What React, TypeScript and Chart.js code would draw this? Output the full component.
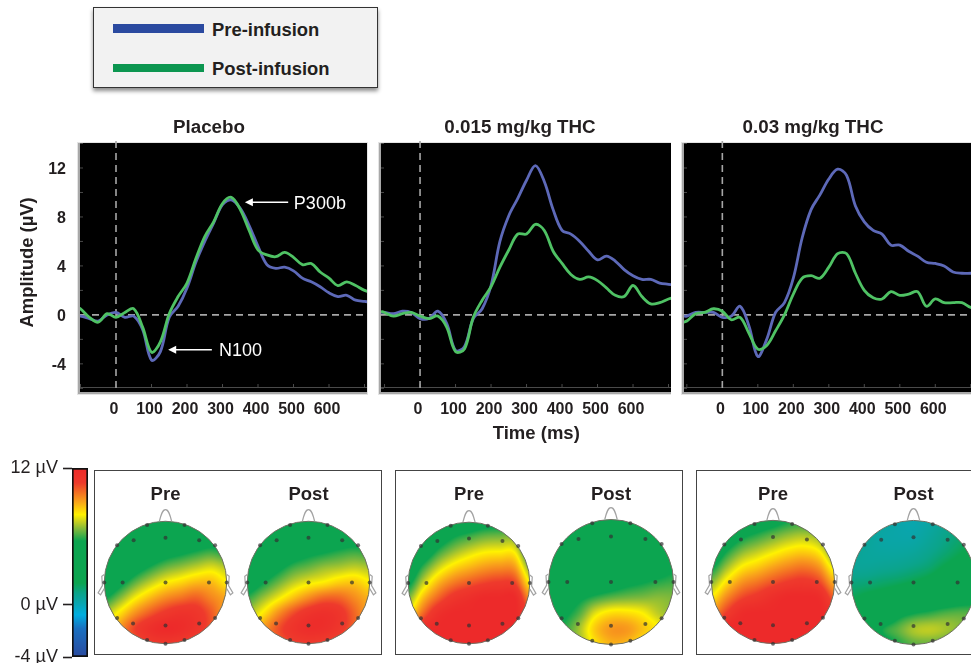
import React, { useEffect, useRef } from "react";
import { Chart, registerables } from "chart.js";

Chart.register(...registerables);

// ---------- ERP data (µV) ----------
const times = [-110, -100, -75, -50, -25, 0, 25, 50, 75, 100, 125, 150, 175, 200, 225, 250, 275, 300, 325, 350, 375, 400, 425, 450, 475, 500, 525, 550, 575, 600, 625, 650, 675, 700, 725];

const placeboPre = [-0.1, -0.1, -0.3, -0.5, 0, 0.2, -0.2, -0.1, -1.2, -3.7, -3, -0.2, 0.7, 2.2, 4.3, 6, 7.5, 9, 9.4, 8.7, 7.3, 5.6, 4.1, 3.8, 3.9, 3.6, 3, 2.7, 2.3, 1.8, 1.5, 1.6, 1.2, 1.1, 1];
const placeboPost = [0.6, 0.5, -0.2, -0.6, 0.1, -0.2, 0.2, 0.5, -1, -3.05, -2.2, 0.1, 1.5, 2.6, 4.6, 6.4, 7.6, 9.1, 9.6, 8.6, 6.9, 5.3, 4.9, 4.75, 5.1, 4.7, 4.1, 4.2, 3.5, 3, 2.4, 2.7, 2.4, 2, 1.8];

const lowPre = [0.2, 0.2, 0.1, 0.3, 0.2, -0.3, -0.3, 0.3, -0.7, -2.9, -2.6, -0.3, 0.5, 2.4, 6, 8.1, 9.5, 11, 12.2, 10.9, 8.6, 6.9, 6.6, 6, 5.2, 4.5, 4.8, 4.4, 3.7, 3.2, 2.9, 2.9, 2.6, 2.5, 2.4];
const lowPost = [0.3, 0.2, -0.1, 0.1, 0.2, -0.1, -0.3, -0.1, -1, -3, -2.8, -0.2, 1.2, 2.3, 3.9, 5.3, 6.6, 6.6, 7.4, 6.9, 5.2, 4.2, 3.3, 2.9, 3.1, 2.8, 2.2, 1.6, 1.5, 2.4, 1.5, 0.9, 1, 1.3, 1.5];

const highPre = [-0.1, -0.1, 0.2, 0.2, 0.2, -0.2, -0.1, 0.7, -0.9, -3.4, -2, 0.2, 1, 3, 6.3, 8.6, 9.8, 11.1, 11.9, 11.4, 8.9, 7.6, 6.9, 6.6, 5.7, 5.7, 5.2, 4.8, 4.3, 4.2, 4, 3.5, 3.4, 3.4, 3.4];
const highPost = [-0.6, -0.5, 0.1, 0.2, 0.5, 0.3, -0.4, -0.2, -1.5, -2.8, -2.5, -1.3, 0, 1.7, 3, 3.2, 3, 3.9, 5, 5, 3.4, 2, 1.4, 1.3, 1.9, 1.6, 1.7, 1.9, 0.7, 1.3, 1, 1, 1, 0.6, 0.5];

const timeTicks = [-100, 0, 100, 200, 300, 400, 500, 600, 700];
const timeTickLabels = [0, 100, 200, 300, 400, 500, 600];
const amplitudeTicks = [-6, -4, -2, 0, 2, 4, 6, 8, 10, 12, 14];
const amplitudeTickLabels = [-4, 0, 4, 8, 12];

// ---------- Scalp maps (µV on a 9 x 9 grid, top row first) ----------
const mapPlaceboPre = [
  [3, 3, 3, 3, 3, 3, 3, 3, 3],
  [3, 3, 3, 3, 3.4, 3.8, 4.2, 4.5, 4.1],
  [3, 3, 3.3, 4.2, 4.9, 5.3, 5.7, 6, 5.6],
  [3, 3.6, 4.8, 5.7, 6.4, 6.8, 7.2, 7.5, 7.1],
  [4, 5.1, 6.3, 7.2, 7.9, 8.3, 8.7, 8.7, 8],
  [5.5, 6.6, 7.8, 8.7, 9.4, 9.8, 10.1, 9.5, 9],
  [7, 8.1, 9.3, 10.2, 10.9, 11.3, 11.1, 10.2, 9],
  [8, 9.2, 10.6, 11.5, 12, 11.8, 11.2, 10.2, 9.2],
  [8, 9, 10, 10.8, 11, 10.8, 10.2, 9.5, 9],
];
const mapPlaceboPost = [
  [3, 3, 3, 3, 3, 3, 3, 3, 3],
  [3, 3, 3, 3.5, 3.9, 4.3, 4.5, 4.7, 4.5],
  [3, 3, 3.9, 4.7, 5.2, 5.5, 5.8, 6, 5.8],
  [3.4, 4.3, 5.2, 6, 6.4, 6.8, 7, 7.2, 7],
  [4.6, 5.5, 6.4, 7.2, 7.7, 8, 8.4, 8.5, 8],
  [5.9, 6.8, 7.7, 8.6, 9.4, 10, 10, 9.4, 8.8],
  [7, 8, 9.3, 10.4, 11.2, 11.5, 11.1, 10, 9],
  [8, 9.1, 10.3, 11.2, 11.7, 11.6, 11, 10, 9.2],
  [8, 9, 10, 10.6, 10.8, 10.6, 10, 9.5, 9],
];
const mapLowPre = [
  [3, 3, 3.3, 4.2, 4.7, 5.1, 5.2, 5.1, 3],
  [3, 3.2, 4.6, 5.6, 6.1, 6.5, 6.6, 6.5, 3.9],
  [3.9, 4.6, 6, 6.9, 7.5, 7.9, 8, 7.9, 5.3],
  [4.3, 6, 7.4, 8.3, 8.8, 9.2, 9.4, 9.2, 6.7],
  [5.3, 7.3, 8.8, 9.7, 10.2, 10.6, 10.8, 10.6, 8],
  [6.6, 8.7, 10.1, 11.1, 11.6, 12, 12, 12, 9.4],
  [8, 10, 11.5, 12, 12, 12, 12, 12, 10.7],
  [9.5, 11.5, 12, 12, 12, 12, 12, 12, 11],
  [10, 12, 12, 12, 12, 12, 12, 12, 11],
];
const mapLowPost = [
  [3.5, 3.5, 3.5, 3.5, 3.5, 3.5, 3.5, 3.5, 3.5],
  [3.5, 3.5, 3.5, 3.5, 3.5, 3.5, 3.5, 3.5, 3.5],
  [3.5, 3.5, 3.5, 3.5, 3.5, 3.5, 3.5, 3.5, 3.5],
  [3.4, 3.4, 3.5, 3.6, 3.8, 4, 4.3, 4.7, 5.2],
  [3.5, 3.6, 3.8, 4.2, 4.7, 5.2, 5.5, 5.8, 6],
  [4, 4.6, 5.3, 5.9, 6.3, 6.5, 6.6, 6.7, 6.6],
  [4.6, 5.3, 6.2, 7.6, 8.2, 8.2, 7.9, 7.2, 6.7],
  [5, 5.8, 7, 8.5, 9.2, 9.2, 8.6, 7.9, 6.8],
  [5.2, 5.8, 6.8, 8.1, 8.8, 8.7, 8, 7, 6.2],
];
const mapHighPre = [
  [3, 3, 4, 4.6, 5.1, 5.6, 5.8, 5.3, 3.6],
  [3, 4.3, 5.35, 5.9, 6.4, 6.85, 7.05, 6.6, 4.9],
  [4.1, 5.6, 6.65, 7.2, 7.7, 8.15, 8.35, 7.9, 6.2],
  [5.4, 6.85, 7.95, 8.45, 9, 9.45, 9.7, 9.2, 7.5],
  [6.7, 8.15, 9.25, 9.75, 10.3, 10.75, 10.95, 10.5, 8.8],
  [8, 9.45, 10.5, 11, 11.6, 12, 12, 11.8, 10.1],
  [9.3, 10.7, 11.8, 12, 12, 12, 12, 12, 11.4],
  [10.6, 12, 12, 12, 12, 12, 12, 12, 12],
  [11, 12, 12, 12, 12, 12, 12, 12, 12],
];
const mapHighPost = [
  [1, 0.9, 0.6, 0.3, 0.2, 0.4, 0.8, 1.2, 1.6],
  [0.9, 0.7, 0.4, 0.3, 0.3, 0.6, 1, 1.4, 1.9],
  [0.8, 0.6, 0.5, 0.5, 0.6, 0.9, 1.3, 1.8, 2.3],
  [0.7, 0.7, 0.8, 0.9, 1.1, 1.4, 2, 2.5, 3],
  [1.2, 1.3, 1.5, 1.7, 2, 2.4, 3, 3.4, 3.8],
  [1.8, 2.2, 2.5, 3, 3.4, 4, 4.4, 4.8, 5],
  [2.4, 2.9, 3.5, 5, 5.6, 5.9, 6.2, 6.3, 6.2],
  [3, 3.8, 5.6, 6.3, 7, 7.2, 7, 6.6, 6],
  [3.4, 3.8, 4.8, 5.7, 6.3, 6.4, 6.2, 5.6, 5],
];

const electrodeX = [-0.52, 0, 0.55, -0.7, 0, 0.71, -0.53, 0, 0.55, -0.3, 0.31, -0.79, 0.81, -1, 1, -0.79, 0.81, -0.3, 0.31, 0];
const electrodeY = [0.69, 0.73, 0.69, 0, 0, 0, -0.67, -0.7, -0.67, 0.94, 0.94, 0.61, 0.61, 0, 0, -0.58, -0.58, -0.94, -0.94, -1];

// ---------- Colour bar ----------
const barTicks = [12, 0, -4.6];
const barMin = -4.6;
const barMax = 12;
const barStopValues = [-4.6, -2.1, -0.9, 0.3, 1, 1.9, 5.6, 6.6, 7.3, 7.9, 9, 10.7, 12];
const barStopColors = ["#2a4a9f", "#1a70c0", "#00aee0", "#0aa5a8", "#0ba48a", "#0ca550", "#0ca550", "#7cb83c", "#c8d020", "#fff200", "#f9a51a", "#ee3a2c", "#ed2a2a"];

const FONT = "'Liberation Sans', Arial, sans-serif";
const INK = "#231f20";
const PRE_LINE = "#5d69b8";
const POST_LINE = "#4fc264";

function hexRgb(h: string) {
  return [parseInt(h.slice(1, 3), 16), parseInt(h.slice(3, 5), 16), parseInt(h.slice(5, 7), 16)];
}
const stopRgb = barStopColors.map(hexRgb);
function colorFor(v: number) {
  if (v <= barStopValues[0]) return stopRgb[0];
  for (let i = 1; i < barStopValues.length; i++) {
    if (v <= barStopValues[i]) {
      const t = (v - barStopValues[i - 1]) / (barStopValues[i] - barStopValues[i - 1]);
      const a = stopRgb[i - 1];
      const b = stopRgb[i];
      return [a[0] + (b[0] - a[0]) * t, a[1] + (b[1] - a[1]) * t, a[2] + (b[2] - a[2]) * t];
    }
  }
  return stopRgb[stopRgb.length - 1];
}
function cr(p0: number, p1: number, p2: number, p3: number, t: number) {
  return 0.5 * (2 * p1 + (p2 - p0) * t + (2 * p0 - 5 * p1 + 4 * p2 - p3) * t * t + (3 * p1 - p0 - 3 * p2 + p3) * t * t * t);
}
function sampleGrid(grid: number[][], x: number, y: number) {
  const n = grid.length - 1;
  const gx = Math.max(0, Math.min(n - 1e-6, ((x + 1) / 2) * n));
  const gy = Math.max(0, Math.min(n - 1e-6, ((1 - y) / 2) * n));
  const ix = Math.floor(gx);
  const iy = Math.floor(gy);
  const tx = gx - ix;
  const ty = gy - iy;
  const row = (r: number) => {
    const R = grid[Math.max(0, Math.min(n, r))];
    const c = (k: number) => R[Math.max(0, Math.min(n, k))];
    return cr(c(ix - 1), c(ix), c(ix + 1), c(ix + 2), tx);
  };
  return cr(row(iy - 1), row(iy), row(iy + 1), row(iy + 2), ty);
}

// ---------- ERP panels ----------
type Note = { text: string; arrowFrom: number; arrowTo: number; arrowY: number; textX: number; textY: number };

const placeboNotes: Note[] = [
  { text: "P300b", arrowFrom: 485, arrowTo: 363, arrowY: 9.2, textX: 501, textY: 9.05 },
  { text: "N100", arrowFrom: 270, arrowTo: 147, arrowY: -2.85, textX: 290, textY: -2.95 },
];

function erpPlugin(notes: Note[]) {
  return {
    id: "erpPanel",
    beforeDatasetsDraw(chart: any) {
      const { ctx, chartArea: a, scales } = chart;
      const x = scales.x;
      const y = scales.y;
      ctx.save();
      // bevel and black panel
      ctx.fillStyle = "#e4e4e4";
      ctx.fillRect(a.left - 3, a.top - 1, a.right - a.left + 4, a.bottom - a.top + 4);
      ctx.fillStyle = "#a8a8a8";
      ctx.fillRect(a.left - 2, a.top, a.right - a.left + 2, a.bottom - a.top + 2);
      ctx.fillStyle = "#000";
      ctx.fillRect(a.left, a.top, a.right - a.left, a.bottom - a.top);
      // faint inner axis furniture
      ctx.strokeStyle = "#4a4a4a";
      ctx.lineWidth = 1;
      ctx.beginPath();
      ctx.moveTo(a.left, a.bottom - 4.5);
      ctx.lineTo(a.right, a.bottom - 4.5);
      x.ticks.forEach((t: any) => {
        const px = x.getPixelForValue(t.value);
        ctx.moveTo(px, a.bottom - 8);
        ctx.lineTo(px, a.bottom - 4);
      });
      y.ticks.forEach((t: any) => {
        const py = y.getPixelForValue(t.value);
        ctx.moveTo(a.left, py);
        ctx.lineTo(a.left + 3, py);
      });
      ctx.stroke();
      // dashed zero lines
      ctx.strokeStyle = "#a6a6a6";
      ctx.lineWidth = 1.6;
      ctx.setLineDash([7, 5]);
      ctx.beginPath();
      ctx.moveTo(a.left, y.getPixelForValue(0));
      ctx.lineTo(a.right, y.getPixelForValue(0));
      ctx.moveTo(x.getPixelForValue(0), a.top - 2);
      ctx.lineTo(x.getPixelForValue(0), a.bottom);
      ctx.stroke();
      ctx.restore();
    },
    afterDatasetsDraw(chart: any) {
      const { ctx, scales } = chart;
      const x = scales.x;
      const y = scales.y;
      ctx.save();
      notes.forEach((n) => {
        const x0 = x.getPixelForValue(n.arrowFrom);
        const x1 = x.getPixelForValue(n.arrowTo);
        const py = y.getPixelForValue(n.arrowY);
        ctx.strokeStyle = "#fff";
        ctx.fillStyle = "#fff";
        ctx.lineWidth = 1.6;
        ctx.beginPath();
        ctx.moveTo(x0, py);
        ctx.lineTo(x1 + 6, py);
        ctx.stroke();
        ctx.beginPath();
        ctx.moveTo(x1, py);
        ctx.lineTo(x1 + 8, py - 4);
        ctx.lineTo(x1 + 8, py + 4);
        ctx.closePath();
        ctx.fill();
        ctx.font = `18px ${FONT}`;
        ctx.textAlign = "left";
        ctx.textBaseline = "middle";
        ctx.fillText(n.text, x.getPixelForValue(n.textX), y.getPixelForValue(n.textY));
      });
      ctx.restore();
    },
  };
}

function ErpPanel(props: {
  title: string; pre: number[]; post: number[]; left: number; width: number; plotLeft: number; plotRight: number;
  xMin: number; xMax: number; showY?: boolean; xTitle?: string; notes?: Note[];
}) {
  const ref = useRef<HTMLCanvasElement>(null);
  useEffect(() => {
    const { title, pre, post, width, left, plotLeft, plotRight, xMin, xMax, showY, xTitle, notes } = props;
    const toPoints = (vals: number[]) => vals.map((v, i) => ({ x: times[i], y: v }));
    const rightGap = left + width - plotRight;
    const chart = new Chart(ref.current as HTMLCanvasElement, {
      type: "line",
      data: {
        datasets: [
          { label: "Pre-infusion", data: toPoints(pre), borderColor: PRE_LINE, borderWidth: 2.8, pointRadius: 0, tension: 0.35, order: 2 },
          { label: "Post-infusion", data: toPoints(post), borderColor: POST_LINE, borderWidth: 2.8, pointRadius: 0, tension: 0.35, order: 1 },
        ],
      },
      options: {
        animation: false,
        responsive: false,
        devicePixelRatio: 1,
        layout: { padding: 0, autoPadding: false },
        plugins: {
          legend: { display: false },
          tooltip: { enabled: false },
          title: { display: true, text: title, color: INK, font: { family: FONT, size: 18.8, weight: "bold", lineHeight: 1.15 }, padding: { top: 7, bottom: 4.4 } },
        },
        scales: {
          x: {
            type: "linear", min: xMin, max: xMax,
            grid: { display: false, drawTicks: false },
            border: { display: false },
            afterFit: (s: any) => { s.height = 58; s.paddingLeft = 0; s.paddingRight = 0; },
            afterBuildTicks: (s: any) => { s.ticks = timeTicks.filter((v) => v >= xMin && v <= xMax).map((value) => ({ value })); },
            ticks: {
              autoSkip: false, maxRotation: 0, padding: 8, labelOffset: -2,
              color: INK, font: { family: FONT, size: 16, weight: "bold" },
              callback: (v: any) => (timeTickLabels.includes(Number(v)) ? String(v) : ""),
            },
            title: xTitle
              ? { display: true, text: xTitle, color: INK, font: { family: FONT, size: 18.5, weight: "bold", lineHeight: 1.2 }, padding: { top: 2, bottom: 5 } }
              : { display: false },
          },
          y: {
            type: "linear", min: -6.3, max: 14.04,
            grid: { display: false, drawTicks: false },
            border: { display: false },
            afterFit: (s: any) => { s.width = plotLeft - left; s.paddingTop = 0; s.paddingBottom = 0; },
            afterBuildTicks: (s: any) => { s.ticks = amplitudeTicks.map((value) => ({ value })); },
            ticks: {
              display: true, autoSkip: false, padding: 14, labelOffset: 2,
              color: showY ? INK : "rgba(0,0,0,0)", font: { family: FONT, size: 16, weight: "bold" },
              callback: (v: any) => (showY && amplitudeTickLabels.includes(Number(v)) ? String(v) : ""),
            },
            title: showY
              ? { display: true, text: "  Amplitude (\u00b5V)", color: INK, font: { family: FONT, size: 18.4, weight: "bold", lineHeight: 1.2 }, padding: { top: 17, bottom: 0 } }
              : { display: false },
          },
          ...(rightGap > 0
            ? {
                gap: {
                  type: "linear", position: "right",
                  grid: { display: false, drawTicks: false }, border: { display: false },
                  ticks: { display: false },
                  afterFit: (s: any) => { s.width = rightGap; s.paddingTop = 0; s.paddingBottom = 0; },
                },
              }
            : {}),
        },
      } as any,
      plugins: [erpPlugin(notes || [])],
    });
    return () => chart.destroy();
  }, []);
  return <canvas ref={ref} width={props.width} height={340} style={{ position: "absolute", left: props.left, top: 110, width: props.width, height: 340 }} />;
}

// ---------- Scalp map ----------
function headPlugin(grid: number[][]) {
  return {
    id: "scalpField",
    beforeDatasetsDraw(chart: any) {
      const { ctx, scales } = chart;
      const sx = scales.x;
      const sy = scales.y;
      const rPx = Math.abs(sx.getPixelForValue(1) - sx.getPixelForValue(0));
      const cx = sx.getPixelForValue(0);
      const cy = sy.getPixelForValue(0);
      const L = Math.floor(cx - rPx - 1);
      const T = Math.floor(cy - rPx - 1);
      const S = Math.ceil(2 * rPx + 3);
      const off = document.createElement("canvas");
      off.width = S;
      off.height = S;
      const oc = off.getContext("2d") as CanvasRenderingContext2D;
      const img = oc.createImageData(S, S);
      for (let j = 0; j < S; j++) {
        for (let i = 0; i < S; i++) {
          const px = L + i + 0.5;
          const py = T + j + 0.5;
          const vx = sx.getValueForPixel(px);
          const vy = sy.getValueForPixel(py);
          const d = Math.hypot(vx, vy);
          if (d > 1.03) continue;
          const c = colorFor(sampleGrid(grid, vx, vy));
          const k = (j * S + i) * 4;
          img.data[k] = c[0];
          img.data[k + 1] = c[1];
          img.data[k + 2] = c[2];
          img.data[k + 3] = 255;
        }
      }
      oc.putImageData(img, 0, 0);
      ctx.save();
      ctx.beginPath();
      ctx.arc(cx, cy, rPx, 0, Math.PI * 2);
      ctx.clip();
      ctx.drawImage(off, L, T);
      ctx.restore();

      const P = (x: number, y: number): [number, number] => [sx.getPixelForValue(x), sy.getPixelForValue(y)];
      ctx.save();
      ctx.lineWidth = 1;
      ctx.strokeStyle = "#6f6f62";
      ctx.beginPath();
      ctx.arc(cx, cy, rPx, 0, Math.PI * 2);
      ctx.stroke();
      ctx.strokeStyle = "#a3a3a3";
      ctx.lineWidth = 1.2;
      // nose
      ctx.beginPath();
      ctx.moveTo(...P(-0.1, 1));
      ctx.bezierCurveTo(...P(-0.07, 1.12), ...P(-0.05, 1.19), ...P(0, 1.19));
      ctx.bezierCurveTo(...P(0.05, 1.19), ...P(0.07, 1.12), ...P(0.1, 1));
      ctx.stroke();
      // ears
      [-1, 1].forEach((s) => {
        ctx.beginPath();
        ctx.moveTo(...P(s * 1, 0.13));
        ctx.lineTo(...P(s * 1.04, 0.1));
        ctx.lineTo(...P(s * 1.03, -0.05));
        ctx.lineTo(...P(s * 1.1, -0.17));
        ctx.lineTo(...P(s * 1.06, -0.2));
        ctx.lineTo(...P(s * 1, -0.1));
        ctx.stroke();
      });
      ctx.restore();
    },
  };
}

function Head(props: { label: string; grid: number[][]; cx: number; cy: number; r: number }) {
  const ref = useRef<HTMLCanvasElement>(null);
  const TITLE_Y = 495;
  const size = Math.round(props.r * 2.4);
  const titleTop = Math.round(TITLE_Y - 14);
  const areaTop = props.cy - size / 2;
  const titleH = Math.round(areaTop - titleTop);
  const height = titleH + size;
  useEffect(() => {
    const chart = new Chart(ref.current as HTMLCanvasElement, {
      type: "scatter",
      data: {
        datasets: [
          {
            label: "Electrodes",
            data: electrodeX.map((x, i) => ({ x, y: electrodeY[i] })),
            pointRadius: 2, pointBackgroundColor: "rgba(50,50,50,0.7)", pointBorderWidth: 0,
          },
        ],
      },
      options: {
        animation: false,
        responsive: false,
        devicePixelRatio: 1,
        layout: { padding: 0, autoPadding: false },
        plugins: {
          legend: { display: false },
          tooltip: { enabled: false },
          title: {
            display: true, text: props.label, color: INK,
            font: { family: FONT, size: 18.5, weight: "bold", lineHeight: 1.2 },
            padding: { top: 3, bottom: titleH - 3 - 22.2 },
          },
        },
        scales: {
          x: { type: "linear", min: -1.2, max: 1.2, display: false },
          y: { type: "linear", min: -1.2, max: 1.2, display: false },
        },
      } as any,
      plugins: [headPlugin(props.grid)],
    });
    return () => chart.destroy();
  }, []);
  return (
    <canvas ref={ref} width={size} height={height}
      style={{ position: "absolute", left: Math.round(props.cx - size / 2), top: titleTop, width: size, height }} />
  );
}

// ---------- Colour bar ----------
function ColorBar() {
  const ref = useRef<HTMLCanvasElement>(null);
  useEffect(() => {
    const chart = new Chart(ref.current as HTMLCanvasElement, {
      type: "bar",
      data: {
        labels: ["\u00b5V"],
        datasets: [
          {
            data: [[barMin, barMax]],
            borderColor: "#111",
            borderWidth: 2,
            borderSkipped: false,
            barPercentage: 1,
            categoryPercentage: 1,
            backgroundColor: (c: any) => {
              const y = c.chart.scales.y;
              const y0 = y ? y.getPixelForValue(barMin) : NaN;
              const y1 = y ? y.getPixelForValue(barMax) : NaN;
              if (!Number.isFinite(y0) || !Number.isFinite(y1)) return "#0ca550";
              const g = c.chart.ctx.createLinearGradient(0, y0, 0, y1);
              barStopValues.forEach((v, i) => g.addColorStop((v - barMin) / (barMax - barMin), barStopColors[i]));
              return g;
            },
          },
        ],
      },
      options: {
        animation: false,
        responsive: false,
        devicePixelRatio: 1,
        layout: { padding: { top: 13, bottom: 6, right: 4, left: 0 }, autoPadding: false },
        plugins: { legend: { display: false }, tooltip: { enabled: false } },
        scales: {
          x: { display: false },
          y: {
            type: "linear", min: barMin, max: barMax,
            border: { display: false },
            grid: { drawOnChartArea: false, drawTicks: true, tickLength: 9, tickColor: "#231f20", tickWidth: 1.6 },
            afterFit: (s: any) => { s.width = 72; s.paddingTop = 0; s.paddingBottom = 0; },
            afterBuildTicks: (s: any) => { s.ticks = barTicks.map((value) => ({ value })); },
            ticks: {
              padding: 5, color: INK, autoSkip: false, font: { family: FONT, size: 18 },
              callback: (v: any) => `${Number(v) < 0 ? -4 : v} \u00b5V`,
            },
          },
        },
      } as any,
    });
    return () => chart.destroy();
  }, []);
  return <canvas ref={ref} width={92} height={208} style={{ position: "absolute", left: 0, top: 455, width: 92, height: 208 }} />;
}

const boxStyle = (left: number, width: number): React.CSSProperties => ({
  position: "absolute", left, top: 470, width, height: 185, boxSizing: "border-box", border: "1.5px solid #444", background: "#fff",
});

const legendText: React.CSSProperties = {
  position: "absolute", left: 118, font: `bold 18.4px ${FONT}`, color: INK, lineHeight: "22px", whiteSpace: "nowrap",
};

export default function App() {
  return (
    <div style={{ position: "absolute", left: 0, top: 0, width: 971, height: 663, overflow: "hidden", background: "#fff" }}>
      {/* legend */}
      <div style={{ position: "absolute", left: 93, top: 7, width: 285, height: 81, boxSizing: "border-box", border: "1.5px solid #333", background: "#f2f2f2", boxShadow: "0 3px 4px rgba(0,0,0,0.45)" }}>
        <div style={{ position: "absolute", left: 19, top: 16, width: 91, height: 9, background: "#2b4aa0" }} />
        <div style={{ position: "absolute", left: 19, top: 56, width: 91, height: 8, background: "#0c9650" }} />
        <div style={{ ...legendText, top: 11 }}>Pre-infusion</div>
        <div style={{ ...legendText, top: 50 }}>Post-infusion</div>
      </div>

      <ErpPanel title="Placebo" pre={placeboPre} post={placeboPost} left={0} width={418} plotLeft={80} plotRight={367} xMin={-101.4} xMax={707} showY notes={placeboNotes} />
      <ErpPanel title="0.015 mg/kg THC" pre={lowPre} post={lowPost} left={369} width={302} plotLeft={381} plotRight={671} xMin={-110} xMax={707} xTitle={"    Time (ms)"} />
      <ErpPanel title="0.03 mg/kg THC" pre={highPre} post={highPost} left={655} width={316} plotLeft={684} plotRight={971} xMin={-108} xMax={700.6} />

      <div style={boxStyle(94, 288)} />
      <div style={boxStyle(395, 288)} />
      <div style={boxStyle(696, 290)} />

      <ColorBar />
      <Head label="Pre" grid={mapPlaceboPre} cx={165} cy={582} r={61.3} />
      <Head label="Post" grid={mapPlaceboPost} cx={308} cy={582} r={61.3} />
      <Head label="Pre" grid={mapLowPre} cx={469} cy={582.5} r={61} />
      <Head label="Post" grid={mapLowPost} cx={611} cy={582} r={62.5} />
      <Head label="Pre" grid={mapHighPre} cx={773} cy={582} r={61.5} />
      <Head label="Post" grid={mapHighPost} cx={913} cy={582} r={62} />
    </div>
  );
}
